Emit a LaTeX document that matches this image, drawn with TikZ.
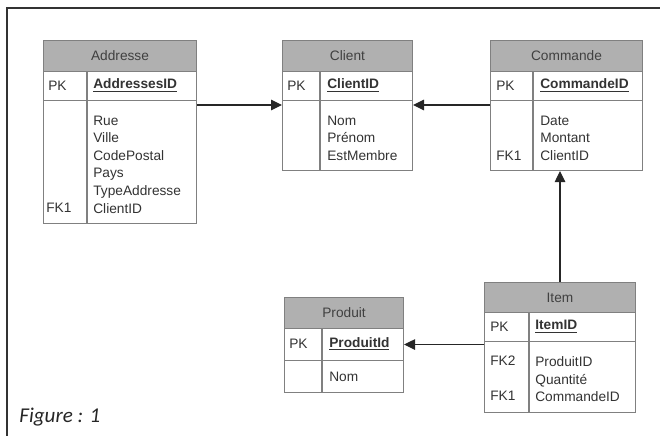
\documentclass[tikz,border=0pt]{standalone}
\usepackage{fontspec}
\setmainfont{Liberation Sans}
\newfontfamily\captionfont{Carlito}
\usepackage{tikz}
\usetikzlibrary{positioning,arrows.meta}

\begin{document}
\begin{tikzpicture}[
  x=0.02cm, y=-0.02cm,
  font=\fontsize{7.8}{10}\selectfont,
  >={Triangle[length=2.2mm,width=2.1mm]},
  tbl/.style={draw=black!50, line width=0.6pt},
  tblcell/.style={tbl, anchor=north west, inner sep=0pt, fill=white},
  tblhead/.style={tblcell, fill=black!31, text=black!75},
  lbl/.style={inner sep=0pt, text=black!80},
  keytxt/.style={lbl, anchor=west},
  pktxt/.style={lbl, anchor=west, font=\fontsize{7.8}{10}\selectfont\bfseries},
  coltxt/.style={lbl, anchor=north west, align=left, execute at begin node=\strut},
  fk/.style={->, draw=black!85, line width=0.6pt},
  frame/.style={draw=black!80, line width=0.9pt}
]
\useasboundingbox (0,0) rectangle (660,436);
% outer frame
\draw[frame] (7,436) -- (7,8) -- (660,8);
% Addresse
\node[tblhead, minimum width=3.06cm, minimum height=0.62cm] (addrH) at (43,40) {Addresse};
\node[tblcell, minimum width=3.06cm, minimum height=0.58cm] (addrK) at (43,71) {};
\node[tblcell, minimum width=3.06cm, minimum height=2.46cm] (addrB) at (43,100) {};
\draw[tbl] (87,71) -- (87,223);
\node[keytxt] (addrPK) at (48,85.5) {PK};
\node[pktxt]  (addrID) at (93,85.5) {\underline{AddressesID}};
\node[keytxt] (addrFK) at (46,208) {FK1};
\node[coltxt] (addrCols) at (93,115.5) {Rue\\Ville\\CodePostal\\Pays\\TypeAddresse\\ClientID};
% Client
\node[tblhead, minimum width=2.6cm, minimum height=0.62cm] (clientH) at (282,40) {Client};
\node[tblcell, minimum width=2.6cm, minimum height=0.58cm] (clientK) at (282,71) {};
\node[tblcell, minimum width=2.6cm, minimum height=1.4cm] (clientB) at (282,100) {};
\draw[tbl] (320,71) -- (320,170);
\node[keytxt] (clientPK) at (287,85.5) {PK};
\node[pktxt]  (clientID) at (327,85.5) {\underline{ClientID}};
\node[coltxt] (clientCols) at (327,115.5) {Nom\\Prénom\\EstMembre};
% Commande
\node[tblhead, minimum width=3.04cm, minimum height=0.62cm] (cmdH) at (490,40) {Commande};
\node[tblcell, minimum width=3.04cm, minimum height=0.58cm] (cmdK) at (490,71) {};
\node[tblcell, minimum width=3.04cm, minimum height=1.4cm] (cmdB) at (490,100) {};
\draw[tbl] (533,71) -- (533,170);
\node[keytxt] (cmdPK) at (496,85.5) {PK};
\node[pktxt]  (cmdID) at (540,85.5) {\underline{CommandeID}};
\node[keytxt] (cmdFK) at (496,155.5) {FK1};
\node[coltxt] (cmdCols) at (540,115.5) {Date\\Montant\\ClientID};
% Produit
\node[tblhead, minimum width=2.38cm, minimum height=0.62cm] (prodH) at (284,297) {Produit};
\node[tblcell, minimum width=2.38cm, minimum height=0.64cm] (prodK) at (284,328) {};
\node[tblcell, minimum width=2.38cm, minimum height=0.64cm] (prodB) at (284,360) {};
\draw[tbl] (322,328) -- (322,392);
\node[keytxt] (prodPK) at (289,344) {PK};
\node[pktxt]  (prodID) at (329,344) {\underline{ProduitId}};
\node[coltxt] (prodCols) at (329,368.4) {Nom};
% Item
\node[tblhead, minimum width=3.02cm, minimum height=0.6cm] (itemH) at (484,282) {Item};
\node[tblcell, minimum width=3.02cm, minimum height=0.58cm] (itemK) at (484,312) {};
\node[tblcell, minimum width=3.02cm, minimum height=1.42cm] (itemB) at (484,341) {};
\draw[tbl] (529,312) -- (529,412);
\node[keytxt] (itemPK) at (490,326.5) {PK};
\node[pktxt]  (itemID) at (535,326.5) {\underline{ItemID}};
\node[keytxt] (itemFKa) at (490,361) {FK2};
\node[keytxt] (itemFKb) at (490,396) {FK1};
\node[coltxt] (itemCols) at (535,356.5) {ProduitID\\Quantité\\CommandeID};
% relations
\draw[fk] ([yshift=-0.1cm]addrB.north east) -- ([yshift=-0.1cm]clientB.north west);
\draw[fk] ([yshift=-0.1cm]cmdB.north west) -- ([yshift=-0.1cm]clientB.north east);
\draw[fk] (itemH.north) -- (itemH.north |- cmdB.south);
\draw[fk] (itemB.west |- prodK.east) -- (prodK.east);
% caption
\node[anchor=base west, inner sep=0pt, text=black!85, font=\captionfont\itshape\fontsize{12}{14}\selectfont] (fig) at (19,422) {Figure : 1};
\end{tikzpicture}
\end{document}
